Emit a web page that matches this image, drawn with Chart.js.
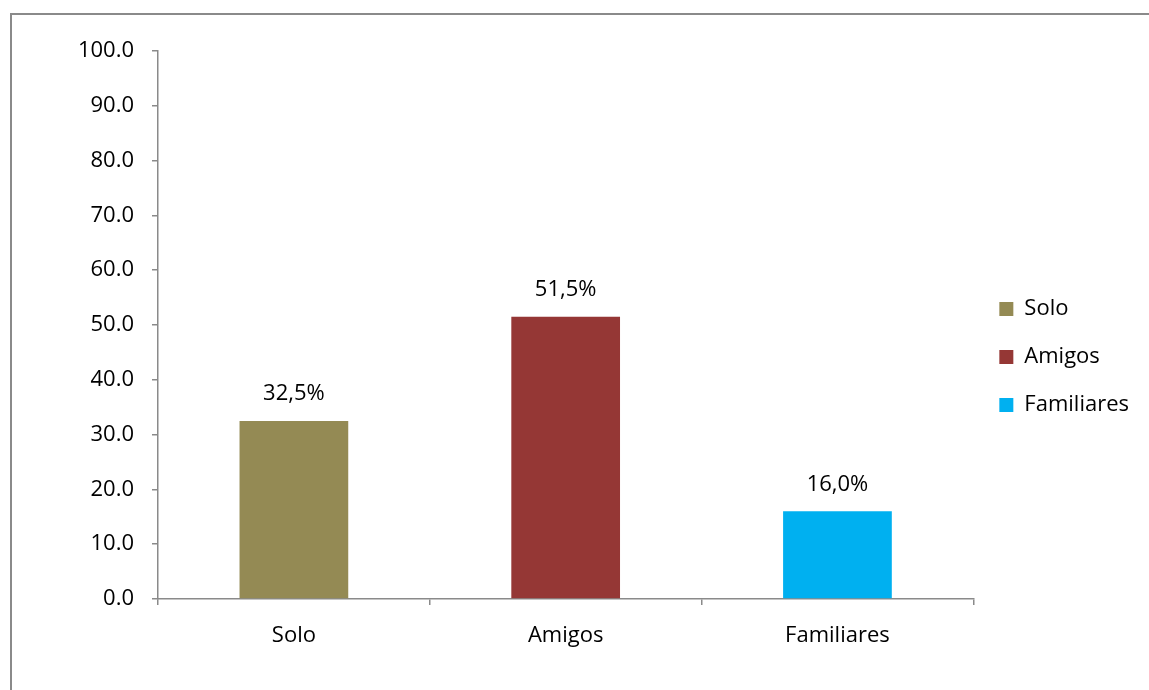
<!DOCTYPE html>
<html>
<head>
<meta charset="utf-8">
<script src="https://cdn.jsdelivr.net/npm/chart.js@4"></script>
<style>
  html, body { margin: 0; padding: 0; background: #fff; overflow: hidden; }
  #frame { position: absolute; left: 10px; top: 13px; width: 1300px; height: 900px; border: 2px solid #8a8a8a; }
  #wrap { position: absolute; left: 0; top: 0; width: 1149px; height: 690px; }
</style>
</head>
<body>
<div id="frame"></div>
<div id="wrap"><canvas id="chart"></canvas></div>
<script>
// Chart data
const categories = ['Solo', 'Amigos', 'Familiares'];
const percentValues = [32.5, 51.5, 16.0];
const valueLabels = ['32,5%', '51,5%', '16,0%'];
const barColors = ['#948A54', '#953735', '#00B0F0'];
const yTicks = [0, 10, 20, 30, 40, 50, 60, 70, 80, 90, 100];

const FONT = "'Open Sans', sans-serif";
const AXIS_GRAY = '#8a8a8a';

// Draws the value label above each bar
const barLabels = {
  id: 'barLabels',
  afterDatasetsDraw(chart) {
    const ctx = chart.ctx;
    const meta = chart.getDatasetMeta(0);
    ctx.save();
    ctx.font = '22px ' + FONT;
    ctx.fillStyle = '#000';
    ctx.textAlign = 'center';
    ctx.textBaseline = 'middle';
    meta.data.forEach((bar, i) => {
      ctx.fillText(valueLabels[i], bar.x, bar.y - 27);
    });
    ctx.restore();
  }
};

new Chart(document.getElementById('chart'), {
  type: 'bar',
  data: {
    labels: categories,
    datasets: [{
      label: 'Porcentaje',
      data: percentValues,
      backgroundColor: barColors,
      borderWidth: 0,
      categoryPercentage: 1,
      barPercentage: 0.4
    }]
  },
  options: {
    responsive: true,
    maintainAspectRatio: false,
    animation: false,
    layout: { padding: { top: 51, right: 10, bottom: 27, left: 0 } },
    plugins: {
      tooltip: { enabled: false },
      legend: {
        position: 'right',
        labels: {
          boxWidth: 14,
          boxHeight: 14,
          padding: 26,
          color: '#000',
          font: { family: FONT, size: 22 },
          generateLabels: () => categories.map((c, i) => ({
            text: c,
            fillStyle: barColors[i],
            strokeStyle: barColors[i],
            lineWidth: 0,
            index: i
          }))
        }
      }
    },
    scales: {
      x: {
        offset: true,
        grid: {
          offset: true,
          drawOnChartArea: false,
          drawTicks: true,
          tickLength: 6,
          color: AXIS_GRAY,
          lineWidth: 1.5
        },
        border: { color: AXIS_GRAY, width: 1.5 },
        ticks: {
          color: '#000',
          padding: 18,
          font: { family: FONT, size: 22 }
        },
        afterFit(scale) { scale.height = 64; }
      },
      y: {
        min: 0,
        max: 100,
        afterBuildTicks(scale) { scale.ticks = yTicks.map(v => ({ value: v })); },
        grid: {
          drawOnChartArea: false,
          drawTicks: true,
          tickLength: 6,
          color: AXIS_GRAY,
          lineWidth: 1.5
        },
        border: { color: AXIS_GRAY, width: 1.5 },
        ticks: {
          color: '#000',
          padding: 18,
          font: { family: FONT, size: 22 },
          callback: v => Number(v).toFixed(1)
        },
        afterFit(scale) { scale.width = 158; }
      }
    }
  },
  plugins: [barLabels]
});
</script>
</body>
</html>
